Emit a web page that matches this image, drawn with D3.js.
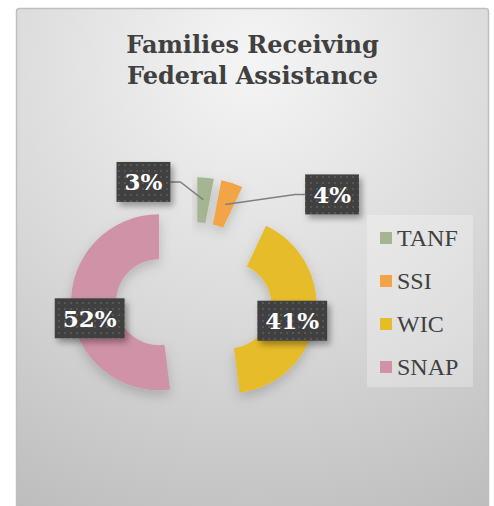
<!DOCTYPE html>
<html>
<head>
<meta charset="utf-8">
<script src="https://cdn.jsdelivr.net/npm/d3@7"></script>
<style>
  body { margin: 0; background: #fff; }
  svg { display: block; }
</style>
</head>
<body>
<div id="chart"></div>
<script>
// data
const categories = ["TANF", "SSI", "WIC", "SNAP"];
const values = [3, 4, 41, 52];
const colors = ["#a5b592", "#f3a447", "#e7bc29", "#d092a7"];
const titleLines = ["Families Receiving", "Federal Assistance"];

// label box offsets from slice centroid (layout, not data)
const labelShift = [[-60, -18], [107, -10], [-1, 5], [-4, 12]];

const width = 494, height = 506;
const cx = 194, cy = 300, outerR = 88, innerR = 43, explode = 35;

const svg = d3.select("#chart").append("svg")
  .attr("width", width)
  .attr("height", height);

const defs = svg.append("defs");

const bg = defs.append("radialGradient")
  .attr("id", "bg")
  .attr("gradientUnits", "userSpaceOnUse")
  .attr("cx", 252).attr("cy", 60).attr("r", 520);
bg.append("stop").attr("offset", "0").attr("stop-color", "#f5f5f5");
bg.append("stop").attr("offset", "0.5").attr("stop-color", "#dadada");
bg.append("stop").attr("offset", "1").attr("stop-color", "#bbbbbb");

const dots = defs.append("pattern")
  .attr("id", "dots")
  .attr("patternUnits", "userSpaceOnUse")
  .attr("width", 6).attr("height", 6);
dots.append("rect").attr("width", 6).attr("height", 6).attr("fill", "#404040");
dots.append("rect").attr("x", 2).attr("y", 2).attr("width", 2).attr("height", 2).attr("fill", "#575757");

const shadow = defs.append("filter").attr("id", "shadow")
  .attr("x", "-30%").attr("y", "-30%").attr("width", "160%").attr("height", "160%");
shadow.append("feDropShadow")
  .attr("dx", 3).attr("dy", 4).attr("stdDeviation", 3)
  .attr("flood-color", "#000").attr("flood-opacity", 0.35);

const softShadow = defs.append("filter").attr("id", "softShadow")
  .attr("x", "-30%").attr("y", "-30%").attr("width", "160%").attr("height", "160%");
softShadow.append("feDropShadow")
  .attr("dx", 0).attr("dy", 5).attr("stdDeviation", 6)
  .attr("flood-color", "#000").attr("flood-opacity", 0.18);

// chart area
svg.append("rect")
  .attr("x", 16.5).attr("y", 8.5)
  .attr("width", 472).attr("height", 510)
  .attr("rx", 3)
  .attr("fill", "url(#bg)")
  .attr("stroke", "#bfbfbf")
  .attr("stroke-width", 1.5);

// title
svg.append("text")
  .attr("text-anchor", "middle")
  .attr("font-family", "'DejaVu Serif', Georgia, serif")
  .attr("font-weight", "bold")
  .attr("font-size", 24)
  .attr("fill", "#404040")
  .selectAll("tspan")
  .data(titleLines)
  .join("tspan")
  .attr("x", 252.5)
  .attr("y", (d, i) => 53 + i * 31)
  .text(d => d);

// donut
const rows = categories.map((c, i) => ({ name: c, value: values[i], color: colors[i] }));

const pie = d3.pie()
  .sort(null)
  .value(d => d.value);

const arc = d3.arc()
  .innerRadius(innerR)
  .outerRadius(outerR);

const arcs = pie(rows);

function shiftOf(d) {
  const mid = (d.startAngle + d.endAngle) / 2;
  return [Math.sin(mid) * explode, -Math.cos(mid) * explode];
}

const chart = svg.append("g")
  .attr("transform", "translate(" + cx + "," + cy + ")");

chart.selectAll("path.slice")
  .data(arcs)
  .join("path")
  .attr("class", "slice")
  .attr("transform", d => "translate(" + shiftOf(d) + ")")
  .attr("d", arc)
  .attr("fill", d => d.data.color)
  .attr("filter", "url(#softShadow)");

// data labels
const fmt = d => d.data.value + "%";

arcs.forEach((d, i) => {
  const s = shiftOf(d);
  const c = arc.centroid(d);
  const px = s[0] + c[0], py = s[1] + c[1];
  const lx = px + labelShift[i][0], ly = py + labelShift[i][1];

  const g = chart.append("g");

  const t = g.append("text")
    .attr("x", lx)
    .attr("y", ly + 8.5)
    .attr("text-anchor", "middle")
    .attr("font-family", "'DejaVu Serif', Georgia, serif")
    .attr("font-weight", "bold")
    .attr("font-size", 23)
    .attr("fill", "#fff")
    .text(fmt(d));

  const w = t.node().getComputedTextLength() + 16;
  const h = 40;

  // leader line for the small slices
  if (Math.abs(labelShift[i][0]) > 20) {
    const side = labelShift[i][0] < 0 ? 1 : -1;
    const ex = lx + side * w / 2;
    g.insert("path", "text")
      .attr("d", "M" + ex + "," + ly + "H" + (ex + side * 10) + "L" + px + "," + py)
      .attr("fill", "none")
      .attr("stroke", "#7f7f7f")
      .attr("stroke-width", 1.5);
  }

  g.insert("rect", "text")
    .attr("x", lx - w / 2)
    .attr("y", ly - h / 2)
    .attr("width", w)
    .attr("height", h)
    .attr("fill", "url(#dots)")
    .attr("filter", "url(#shadow)");
});

// legend
const legend = svg.append("g");

legend.append("rect")
  .attr("x", 367).attr("y", 215)
  .attr("width", 106).attr("height", 172)
  .attr("fill", "#fff")
  .attr("fill-opacity", 0.28);

const item = legend.selectAll("g.item")
  .data(rows)
  .join("g")
  .attr("class", "item")
  .attr("transform", (d, i) => "translate(380," + (238 + i * 43) + ")");

item.append("rect")
  .attr("y", -6)
  .attr("width", 12)
  .attr("height", 12)
  .attr("fill", d => d.color);

item.append("text")
  .attr("x", 17)
  .attr("y", 8)
  .attr("font-family", "'Liberation Serif', 'Times New Roman', serif")
  .attr("font-size", 24)
  .attr("fill", "#404040")
  .text(d => d.name);
</script>
</body>
</html>
